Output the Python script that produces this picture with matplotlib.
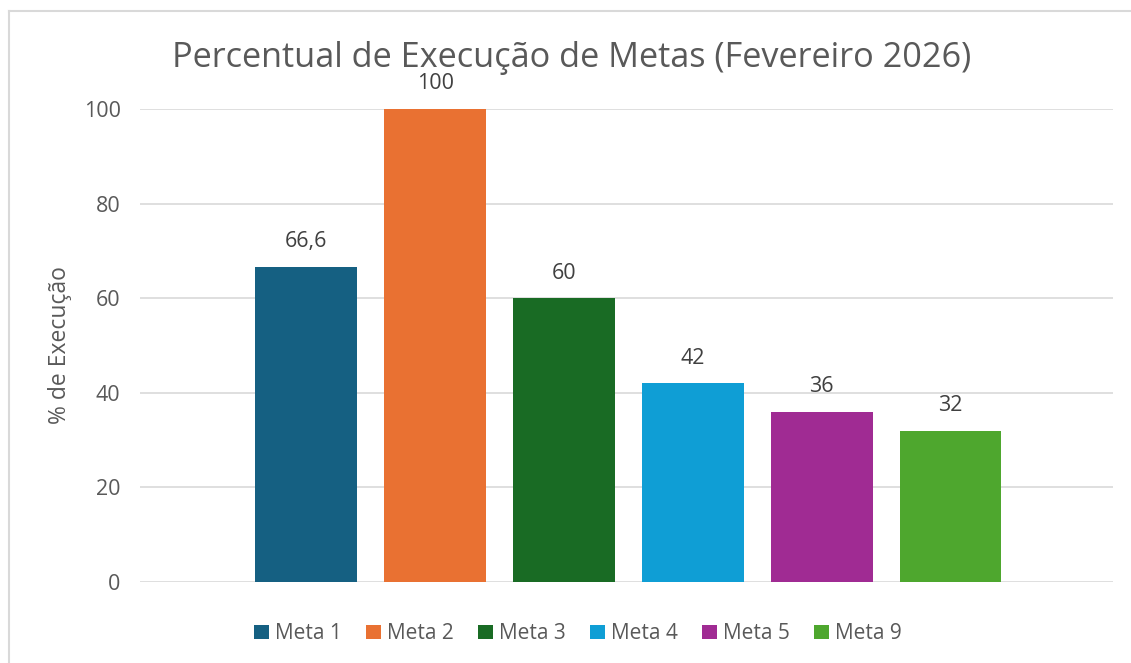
import matplotlib
matplotlib.use('Agg')
import matplotlib.pyplot as plt
from matplotlib.lines import Line2D

metas = ['Meta 1', 'Meta 2', 'Meta 3', 'Meta 4', 'Meta 5', 'Meta 9']
valores = [66.6, 100, 60, 42, 36, 32]
rotulos = ['66,6', '100', '60', '42', '36', '32']
cores = ['#156082', '#E97132', '#196B24', '#0F9ED5', '#A02B93', '#4EA72E']

plt.rcParams['font.family'] = ['Open Sans', 'DejaVu Sans']
texto = '#595959'

fig = plt.figure(figsize=(11.31, 6.63), dpi=100)
ax = fig.add_axes([0.1238, 0.1222, 0.984 - 0.1238, 0.8356 - 0.1222])

x = list(range(len(metas)))
barras = ax.bar(x, valores, width=0.79, color=cores, label=metas, zorder=2)

for xi, v, r in zip(x, valores, rotulos):
    ax.annotate(r, (xi, v), xytext=(0, 18), textcoords='offset points',
                ha='center', va='center', fontsize=15.5, color='#404040')

ax.set_xlim(-1.29, 6.26)
ax.set_ylim(0, 100)
ax.set_yticks(range(0, 101, 20))
ax.yaxis.grid(True, color='#D9D9D9', linewidth=1.2, zorder=0)
ax.set_xticks([])
ax.tick_params(axis='y', length=0, pad=14, labelsize=15.5, labelcolor=texto)
for s in ax.spines.values():
    s.set_visible(False)
ax.set_ylabel('% de Execução', fontsize=16.5, color=texto, labelpad=8)

fig.text(0.505, 0.913, 'Percentual de Execução de Metas (Fevereiro 2026)',
         ha='center', va='center', fontsize=24.7, color=texto)

fig.legend(barras, metas, loc='center', bbox_to_anchor=(0.511, 0.044), ncol=6,
           frameon=False, fontsize=15, handlelength=0.72, handleheight=0.7,
           handletextpad=0.3, columnspacing=1.15, labelcolor=texto)

# moldura do gráfico (só topo e esquerda visíveis)
fig.add_artist(Line2D([9 / 1131, 1], [1 - 11 / 663] * 2, color='#D9D9D9', lw=1.5))
fig.add_artist(Line2D([9 / 1131] * 2, [0, 1 - 11 / 663], color='#D9D9D9', lw=1.5))

fig.savefig('out.png', dpi=100)
